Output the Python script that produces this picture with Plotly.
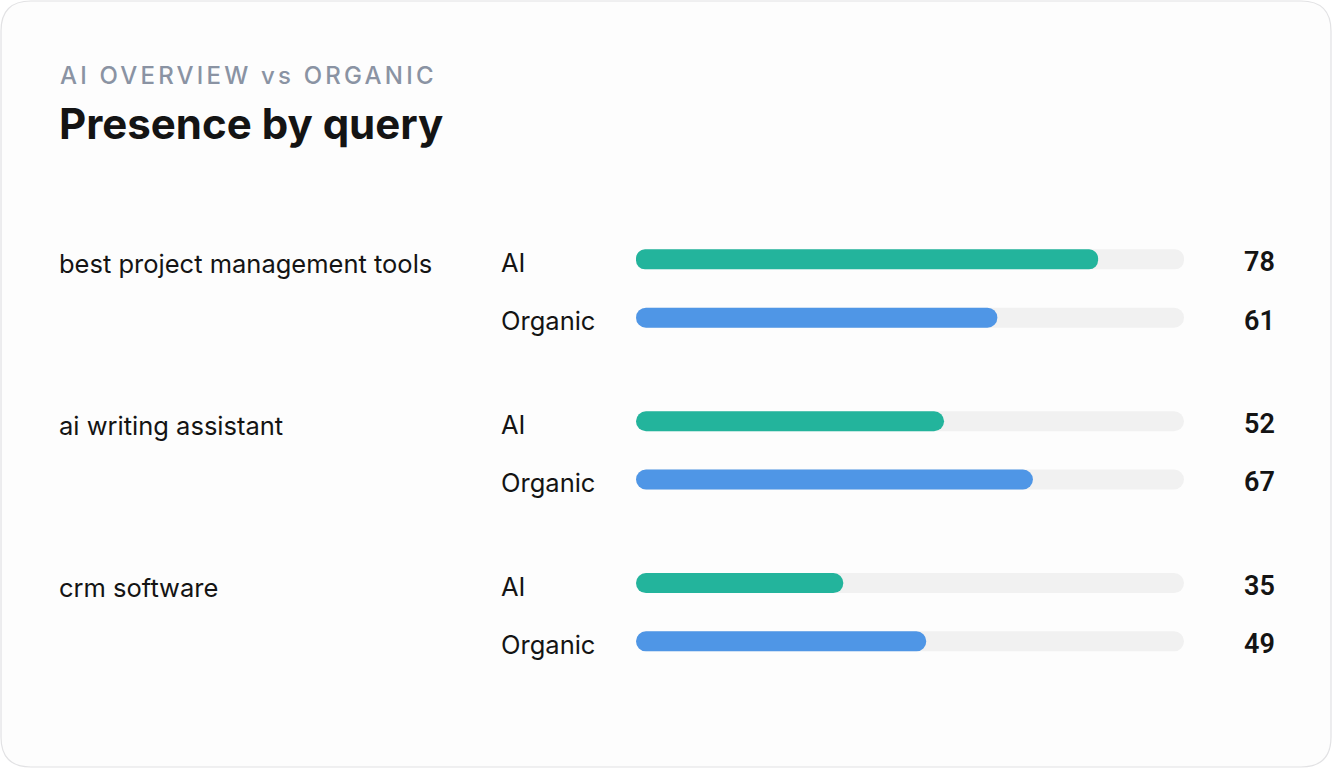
import plotly.graph_objects as go

# ---------------- data ----------------
queries = ["best project management tools", "ai writing assistant", "crm software"]
series_names = ["AI", "Organic"]
ai_values = [78, 52, 35]
organic_values = [61, 67, 49]
subtitle = "AI OVERVIEW vs ORGANIC"
title = "Presence by query"

# ---------------- layout constants ----------------
W, H = 1332, 768
L, R, T, B = 636, 148, 227, 104
PW, PH = W - L - R, H - T - B
XMAX = 92.5                      # axis span mapped onto the track
Y0, Y1 = -0.2, 2.5               # y range (reversed)
ORG_OFF = 0.36                   # organic row offset inside a group
BAR_W = 20 / (PH / (Y1 - Y0))    # 20px bar thickness in y units

TEAL = "#23b49c"
BLUE = "#4f96e6"
TRACK = "#f1f1f1"
INK = "#141414"
MUTED = "#8a93a3"


def px_x(px):
    return (px - L) / PW


def px_y(py):
    return (H - B - py) / PH


ai_rows = [g for g in range(len(queries))]
org_rows = [g + ORG_OFF for g in range(len(queries))]
all_rows = ai_rows + org_rows

fig = go.Figure()

# track
fig.add_trace(go.Bar(
    x=[XMAX] * len(all_rows), base=[0] * len(all_rows), y=all_rows,
    orientation="h", width=BAR_W, marker=dict(color=TRACK, line=dict(width=0)),
    hoverinfo="skip", showlegend=False))

for vals, rows, col in ((ai_values, ai_rows, TEAL), (organic_values, org_rows, BLUE)):
    fig.add_trace(go.Bar(
        x=vals, base=[0] * len(vals), y=rows, orientation="h",
        width=BAR_W, marker=dict(color=col, line=dict(width=0)),
        hoverinfo="skip", showlegend=False))

annotations = []
# header
annotations.append(dict(text=subtitle, x=px_x(58), y=px_y(75), xref="paper", yref="paper",
                        xanchor="left", yanchor="middle", showarrow=False,
                        font=dict(family="Inter", size=24, color=MUTED, weight=500)))
annotations.append(dict(text=title, x=px_x(57), y=px_y(124), xref="paper", yref="paper",
                        xanchor="left", yanchor="middle", showarrow=False,
                        font=dict(family="Inter", size=42, color=INK, weight=700)))

for g, q in enumerate(queries):
    annotations.append(dict(text=q, x=px_x(57), y=ai_rows[g], xref="paper", yref="y",
                            xanchor="left", yanchor="middle", yshift=-4, showarrow=False,
                            font=dict(family="Inter", size=25.5, color=INK)))
    for name, row, val in ((series_names[0], ai_rows[g], ai_values[g]),
                           (series_names[1], org_rows[g], organic_values[g])):
        annotations.append(dict(text=name, x=px_x(499), y=row, xref="paper", yref="y",
                                xanchor="left", yanchor="middle", yshift=-3, showarrow=False,
                                font=dict(family="Inter", size=25.5, color=INK)))
        annotations.append(dict(text=str(val), x=px_x(1277), y=row, xref="paper", yref="y",
                                xanchor="right", yanchor="middle", yshift=-3, showarrow=False,
                                font=dict(family="Roboto", size=27, color=INK, weight=600)))

# card background
x0, x1, yt, yb, r = 1, W - 1, 1, H - 1, 30
pts = [
    f"M {px_x(x0 + r)},{px_y(yt)}",
    f"L {px_x(x1 - r)},{px_y(yt)}",
    f"Q {px_x(x1)},{px_y(yt)} {px_x(x1)},{px_y(yt + r)}",
    f"L {px_x(x1)},{px_y(yb - r)}",
    f"Q {px_x(x1)},{px_y(yb)} {px_x(x1 - r)},{px_y(yb)}",
    f"L {px_x(x0 + r)},{px_y(yb)}",
    f"Q {px_x(x0)},{px_y(yb)} {px_x(x0)},{px_y(yb - r)}",
    f"L {px_x(x0)},{px_y(yt + r)}",
    f"Q {px_x(x0)},{px_y(yt)} {px_x(x0 + r)},{px_y(yt)} Z",
]
shapes = [dict(type="path", path=" ".join(pts), xref="paper", yref="paper",
               fillcolor="#fdfdfd", line=dict(color="#e2e2e4", width=1.2), layer="below")]

fig.update_layout(
    width=W, height=H,
    margin=dict(l=L, r=R, t=T, b=B),
    paper_bgcolor="#ffffff", plot_bgcolor="rgba(0,0,0,0)",
    barmode="overlay", barcornerradius=10,
    xaxis=dict(range=[0, XMAX], visible=False, fixedrange=True),
    yaxis=dict(range=[Y1, Y0], visible=False, fixedrange=True),
    annotations=annotations, shapes=shapes,
    showlegend=False, hovermode=False,
)

post_js = """
document.body.style.margin = '0';
document.body.style.padding = '0';
document.querySelectorAll('text.annotation-text').forEach(function (t) {
  if (t.textContent === %s) {
    var bb = t.getBBox();
    t.setAttribute('text-anchor', 'start');
    t.setAttribute('x', bb.x);
    t.style.letterSpacing = '3.2px';
  }
});
""" % repr(subtitle)

fig.write_html("out.html", config={"displayModeBar": False}, post_script=post_js)
